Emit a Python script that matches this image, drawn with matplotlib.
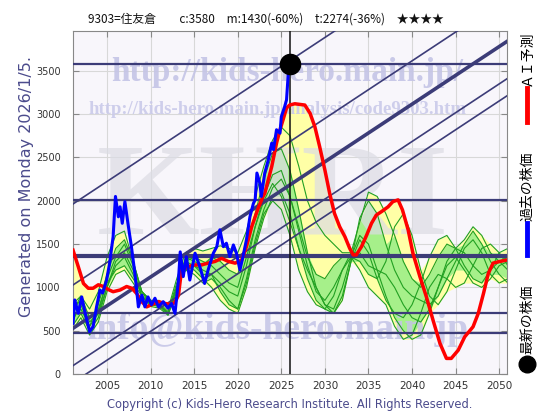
import matplotlib.pyplot as plt
import numpy as np
from matplotlib.lines import Line2D

JP = ['Noto Sans CJK JP', 'DejaVu Sans']
plt.rcParams['font.family'] = ['DejaVu Sans']

# ---- data ----
title = '9303=住友倉　　c:3580　m:1430(-60%)　t:2274(-36%)　★★★★'
now_year = 2026.0
now_price = 3580

blue_years = [2001.1, 2001.3, 2001.7, 2002.1, 2002.5, 2003.0, 2003.4, 2003.8, 2004.2, 2004.5,
              2004.95, 2005.3, 2005.7, 2005.97, 2006.3, 2006.5, 2006.75, 2007.05, 2007.4, 2007.8,
              2008.2, 2008.4, 2008.6, 2009.0, 2009.35, 2009.7, 2010.1, 2010.5, 2010.9, 2011.45,
              2012.0, 2012.4, 2012.8, 2013.2, 2013.4, 2013.75, 2014.1, 2014.5, 2015.1, 2015.65,
              2016.2, 2016.6, 2017.2, 2017.6, 2017.95, 2018.35, 2018.7, 2019.1, 2019.5, 2019.85,
              2020.25, 2020.6, 2021.0, 2021.4, 2021.8, 2022.0, 2022.2, 2022.55, 2022.7, 2023.1,
              2023.5, 2023.9, 2024.1, 2024.45, 2024.85, 2025.0, 2025.4, 2025.6, 2025.8, 2026.0]
blue_vals = [585, 855, 700, 890, 700, 490, 545, 775, 970, 935,
             1085, 1280, 1585, 2050, 1815, 1930, 1740, 1990, 1740, 1470,
             1160, 970, 775, 910, 775, 890, 800, 875, 775, 835,
             760, 815, 700, 1085, 1410, 1125, 1355, 1085, 1395, 1240,
             1045, 1200, 1395, 1470, 1665, 1470, 1510, 1355, 1490, 1395,
             1200, 1355, 1550, 1815, 1970, 2010, 2320, 2200, 2050, 2320,
             2470, 2665, 2590, 2820, 2780, 2970, 3090, 3165, 3470, 3580]

red_years = [2001.1, 2001.7, 2002.3, 2002.85, 2003.4, 2004.0, 2004.6, 2005.15, 2005.7, 2006.5,
             2007.25, 2007.85, 2008.4, 2009.0, 2009.55, 2010.1, 2010.9, 2011.65, 2012.4, 2012.8,
             2013.2, 2013.55, 2014.3, 2015.1, 2015.85, 2016.6, 2017.4, 2018.15, 2018.9, 2019.7,
             2020.45, 2021.0, 2021.6, 2022.35, 2022.9, 2023.1, 2023.9, 2024.45, 2024.85, 2025.2,
             2025.6, 2025.95, 2026.55, 2027.7, 2028.3, 2028.85, 2029.4, 2030.0, 2030.55, 2031.1,
             2031.7, 2032.3, 2032.85, 2033.25, 2033.6, 2034.2, 2034.8, 2035.35, 2035.9, 2036.5,
             2037.25, 2037.8, 2038.4, 2038.9, 2039.55, 2040.1, 2040.9, 2041.65, 2042.4, 2043.2,
             2043.95, 2044.5, 2045.3, 2046.05, 2047.0, 2047.6, 2048.2, 2048.75, 2049.3, 2050.1,
             2050.85]
red_vals = [1430, 1240, 1045, 990, 990, 1030, 1010, 975, 950, 970,
            1010, 990, 930, 835, 775, 800, 835, 815, 800, 830,
            910, 1200, 1240, 1260, 1260, 1280, 1300, 1335, 1300, 1280,
            1315, 1470, 1700, 1915, 2050, 2085, 2395, 2665, 2820, 2935,
            3070, 3105, 3120, 3105, 3010, 2855, 2625, 2355, 2085, 1855,
            1700, 1585, 1450, 1375, 1375, 1470, 1605, 1740, 1835, 1875,
            1930, 1990, 2010, 1895, 1665, 1395, 1125, 890, 625, 355,
            180, 180, 275, 430, 545, 700, 930, 1160, 1280, 1300,
            1315]

# forecast paths, one value per year 2001..2051
fc_years = list(range(2001, 2052))
g1 = [700, 900, 750, 950, 1350, 1600, 1650, 1300, 950, 850,
      850, 750, 1100, 1400, 1450, 1420, 1450, 1480, 1450, 1400,
      1650, 2050, 2400, 2700, 2850, 2750, 2400, 2000, 1750, 1600,
      1500, 1400, 1400, 1750, 2100, 2050, 1850, 1600, 1300, 1100,
      1000, 1150, 1350, 1500, 1450, 1550, 1700, 1600, 1400, 1300,
      1350]
g2 = [600, 800, 550, 800, 1150, 1450, 1550, 1300, 950, 800,
      800, 700, 1000, 1350, 1300, 1250, 1350, 1300, 1200, 1150,
      1500, 1850, 2250, 2550, 2600, 2350, 1900, 1400, 1000, 800,
      750, 1000, 1350, 1600, 1500, 1200, 900, 650, 500, 400,
      450, 700, 1000, 1300, 1450, 1400, 1250, 1150, 1200, 1300,
      1200]
g3 = [550, 700, 500, 650, 1000, 1300, 1400, 1200, 900, 780,
      760, 680, 950, 1300, 1250, 1150, 1150, 1050, 950, 900,
      1250, 1700, 2050, 2300, 2350, 2050, 1650, 1250, 950, 850,
      1000, 1200, 1350, 1300, 1150, 1100, 1300, 1700, 1850, 1600,
      1200, 900, 800, 950, 1200, 1450, 1550, 1400, 1150, 1050,
      1100]
g4 = [800, 900, 650, 750, 1050, 1200, 1250, 1100, 950, 850,
      820, 720, 1050, 1250, 1200, 1100, 1000, 850, 750, 700,
      1000, 1450, 1800, 2050, 2100, 1850, 1450, 1100, 850, 750,
      700, 900, 1300, 1550, 1400, 1100, 850, 700, 650, 800,
      1050, 1350, 1550, 1600, 1450, 1250, 1100, 1050, 1200, 1400,
      1450]
g5 = [500, 650, 450, 600, 950, 1150, 1200, 1050, 900, 820,
      800, 700, 1000, 1200, 1150, 1050, 1100, 1000, 850, 750,
      1100, 1550, 1900, 2150, 2250, 2050, 1700, 1350, 1150, 1100,
      1250, 1350, 1350, 1200, 1000, 900, 800, 550, 400, 450,
      700, 1000, 1150, 1100, 1000, 1050, 1250, 1450, 1500, 1400,
      1250]
g6 = [650, 750, 550, 700, 1100, 1350, 1500, 1250, 950, 850,
      800, 680, 1000, 1300, 1350, 1300, 1250, 1150, 1050, 1000,
      1350, 1700, 2000, 2200, 2050, 1750, 1450, 1200, 1000, 800,
      700, 850, 1300, 1800, 2000, 1850, 1500, 1200, 1000, 900,
      850, 800, 900, 1100, 1300, 1500, 1650, 1500, 1300, 1150,
      1050]
g7 = [750, 850, 600, 700, 1000, 1250, 1350, 1150, 900, 800,
      780, 700, 1000, 1200, 1250, 1200, 1150, 950, 800, 750,
      1050, 1500, 1850, 2000, 1900, 1600, 1200, 950, 800, 750,
      900, 1200, 1400, 1400, 1250, 1200, 1150, 1000, 800, 650,
      600, 750, 1000, 1250, 1350, 1200, 1050, 1000, 1100, 1250,
      1300]
greens = [g1, g2, g3, g4, g5, g6, g7]

h_levels = [3580, 2010, 1360, 705, 475]
trend_base_year = 2000
trend_slope = 66.5
trend_offsets = [1890, 955, 455, 24, -173]

# ---- figure ----
fig = plt.figure(figsize=(5.6, 4.2), dpi=100)
ax = fig.add_axes([0.1304, 0.1095, 0.775, 0.8167])
ax.set_facecolor('#f8f6fb')

# bands
G = np.sort(np.array(greens, dtype=float), axis=0)
xf = np.union1d(red_years, fc_years)
xf = xf[(xf >= red_years[0]) & (xf <= red_years[-1])]
red_f = np.interp(xf, red_years, red_vals)
gmax_f = np.interp(xf, fc_years, G[-1])
gmin_f = np.interp(xf, fc_years, G[0])
ax.fill_between(xf, gmin_f, np.maximum(gmax_f, red_f), color='#ffffa6', lw=0, zorder=1)
ax.fill_between(fc_years, G[1], G[-2], color='#a6f08a', lw=0, zorder=1.1)

# watermarks
wm = dict(transform=ax.transAxes, ha='center', va='center', family='Liberation Serif',
          weight='bold', zorder=1.5, clip_on=True)
ax.text(0.46, 0.50, 'KHRI', fontsize=95, color='#dcdce4', alpha=0.7, **wm)
ax.text(0.493, 0.878, 'http://kids-hero.main.jp/', fontsize=24, color='#c4c4e6', alpha=0.9, **wm)
ax.text(0.47, 0.77, 'http://kids-hero.main.jp/analysis/code9303.htm', fontsize=13.5,
        color='#cacaea', alpha=0.9, **wm)
ax.text(0.47, 0.13, 'info@kids-hero.main.jp', fontsize=27, color='#c4c4e6', alpha=0.85, **wm)

for g in greens:
    ax.plot(fc_years, g, color='#22a022', lw=0.8, zorder=2)

# channel lines
for i, lv in enumerate(h_levels):
    ax.axhline(lv, color='#3c3c78', lw=3 if i == 2 else 1.6, zorder=3)
tx = np.array([2000, 2052])
for i, off in enumerate(trend_offsets):
    ax.plot(tx, off + trend_slope * (tx - trend_base_year), color='#3c3c78',
            lw=2.6 if i == 2 else 1.2, zorder=3)

ax.axvline(now_year, color='#111111', lw=1.1, zorder=3.5)
ax.plot(red_years, red_vals, color='#ff0000', lw=2.5, zorder=4)
ax.plot(blue_years, blue_vals, color='#0000ff', lw=2.2, zorder=5)
ax.plot([now_year], [now_price], 'o', color='black', ms=14.5, zorder=6, clip_on=False)

ax.set_xlim(2001.1, 2050.9)
ax.set_ylim(0, 3960)
ax.set_xticks(range(2005, 2051, 5))
ax.set_yticks(range(0, 3501, 500))
ax.tick_params(direction='in', length=4, color='#888888', labelcolor='#333333',
               right=True, top=True)
ax.tick_params(axis='x', labelsize=7.5, pad=5)
ax.tick_params(axis='y', labelsize=7, pad=9)
ax.grid(True, color='#d8d8d8', lw=0.8)
ax.set_axisbelow(True)
for s in ax.spines.values():
    s.set_color('#888888')

# texts around the plot
fig.text(0.475, 0.955, title, ha='center', va='center', fontsize=8.5, family=JP, color='#111111')
fig.text(0.047, 0.555, 'Generated on Monday 2026/1/5.', rotation=90, ha='center', va='center',
         fontsize=11.5, color='#4b4b8c')
fig.text(0.518, 0.036, 'Copyright (c) Kids-Hero Research Institute. All Rights Reserved.',
         ha='center', va='center', fontsize=8.3, color='#4b4b8c')

# side legend
lx = 0.941
fig.text(lx, 0.862, 'ＡＩ予測', rotation=90, ha='center', va='center', fontsize=10, family=JP)
fig.add_artist(Line2D([lx, lx], [0.710, 0.790], color='#ff0000', lw=3.5))
fig.text(lx, 0.557, '過去の株価', rotation=90, ha='center', va='center', fontsize=10, family=JP)
fig.add_artist(Line2D([lx, lx], [0.393, 0.469], color='#0000ff', lw=3.5))
fig.text(lx, 0.240, '最新の株価', rotation=90, ha='center', va='center', fontsize=10, family=JP)
fig.add_artist(Line2D([lx], [0.133], marker='o', color='black', ms=12))

fig.savefig('out.png', dpi=100)
